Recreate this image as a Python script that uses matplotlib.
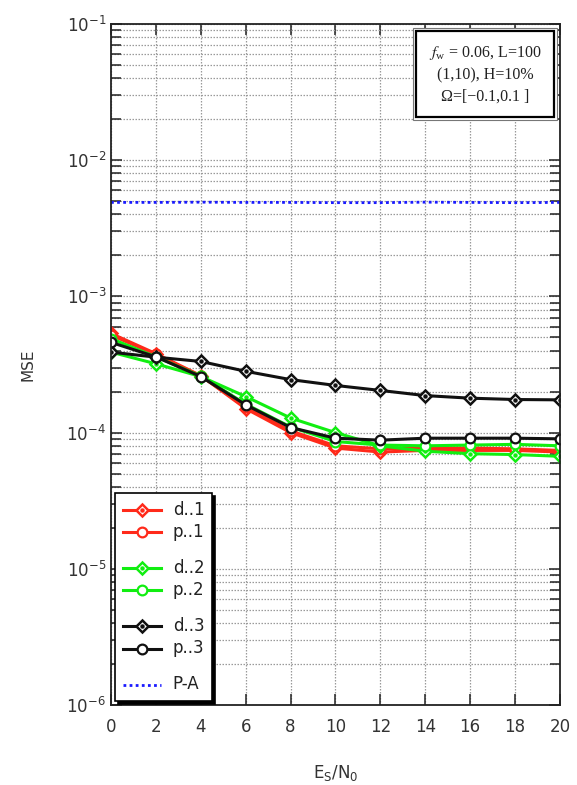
import matplotlib
matplotlib.use("Agg")
import matplotlib.pyplot as plt
from matplotlib.lines import Line2D
from matplotlib.patches import Rectangle
from matplotlib.legend_handler import HandlerTuple
import numpy as np

plt.rcParams['font.family'] = ['DejaVu Sans']
plt.rcParams['axes.unicode_minus'] = False
plt.rcParams['mathtext.fontset'] = 'stix'

x = [0, 2, 4, 6, 8, 10, 12, 14, 16, 18, 20]
d1 = [5.35e-4, 3.8e-4, 2.62e-4, 1.5e-4, 1.0e-4, 7.7e-5, 7.2e-5, 7.4e-5, 7.4e-5, 7.4e-5, 7.2e-5]
p1 = [5.2e-4, 3.75e-4, 2.6e-4, 1.55e-4, 1.03e-4, 8.0e-5, 7.6e-5, 7.7e-5, 7.7e-5, 7.6e-5, 7.4e-5]
d2 = [3.9e-4, 3.2e-4, 2.58e-4, 1.84e-4, 1.28e-4, 1.0e-4, 8.0e-5, 7.3e-5, 7.0e-5, 6.9e-5, 6.7e-5]
p2 = [4.9e-4, 3.6e-4, 2.6e-4, 1.62e-4, 1.1e-4, 8.6e-5, 8.1e-5, 8.0e-5, 8.1e-5, 8.2e-5, 8.0e-5]
d3 = [3.9e-4, 3.58e-4, 3.33e-4, 2.82e-4, 2.45e-4, 2.22e-4, 2.04e-4, 1.87e-4, 1.79e-4, 1.75e-4, 1.74e-4]
p3 = [4.6e-4, 3.6e-4, 2.58e-4, 1.6e-4, 1.09e-4, 9.1e-5, 8.8e-5, 9.1e-5, 9.1e-5, 9.1e-5, 9.0e-5]
pa = [4.9e-3, 4.9e-3, 4.92e-3, 4.9e-3, 4.9e-3, 4.88e-3, 4.88e-3, 4.92e-3, 4.9e-3, 4.88e-3, 4.9e-3]

labels = ['d..1', 'p..1', 'd..2', 'p..2', 'd..3', 'p..3', 'P-A']
red = '#ff2a1a'
green = '#11ee11'
black = '#111111'

fig = plt.figure(figsize=(5.77, 7.85), dpi=100)
ax = fig.add_axes([0.1924, 0.1019, 0.7781, 0.8675])

lw = 2.2
def dseries(y, c):
    l1, = ax.plot(x, y, color=c, lw=lw, marker='D', ms=6.5, mfc='white', mec=c, mew=1.8)
    l2, = ax.plot(x, y, ls='none', marker='o', ms=2.2, color=c)
    return (l1, l2)

def pseries(y, c):
    l, = ax.plot(x, y, color=c, lw=lw, marker='o', ms=7, mfc='white', mec=c, mew=1.6)
    return l

h_d1 = dseries(d1, red)
h_p1 = pseries(p1, red)
h_d2 = dseries(d2, green)
h_p2 = pseries(p2, green)
h_d3 = dseries(d3, black)
h_p3 = pseries(p3, black)
h_pa, = ax.plot(x, pa, color='#1a1aff', lw=2, ls=(0, (1, 1.2)))

ax.set_yscale('log')
ax.set_ylim(1e-6, 1e-1)
ax.set_xlim(0, 20)
ax.set_xticks(x)
ax.grid(True, which='major', axis='both', color='#9a9a9a', ls=(0, (1.2, 1.2)), lw=0.9)
ax.grid(True, which='minor', axis='y', color='#9a9a9a', ls=(0, (1.2, 1.2)), lw=0.9)
ax.tick_params(which='both', direction='in', top=True, right=True, labelsize=12, labelcolor='#333333', color='#222222')
ax.tick_params(which='major', length=8, width=1.1)
ax.tick_params(which='minor', length=7, width=1.1)
ax.tick_params(axis='x', pad=9)
for s in ax.spines.values():
    s.set_linewidth(1.3)
    s.set_color('#222222')

ax.set_ylabel('MSE', fontsize=11, color='#333333', labelpad=22)
ax.set_xlabel(r'$\mathregular{E_S/N_0}$', fontsize=12, color='#333333', labelpad=20)

blank = Line2D([], [], ls='none')
handles = [h_d1, h_p1, blank, h_d2, h_p2, blank, h_d3, h_p3, blank, h_pa]
leg_labels = [labels[0], labels[1], ' ', labels[2], labels[3], ' ', labels[4], labels[5], ' ', labels[6]]
leg = ax.legend(handles, leg_labels, loc='lower left', fontsize=12, handlelength=2.3,
                handleheight=0.3, labelspacing=0.25, handletextpad=0.7, borderpad=0.45,
                borderaxespad=0.25, fancybox=False, edgecolor='black', framealpha=1,
                shadow={'color': 'black', 'alpha': 1},
                handler_map={tuple: HandlerTuple(ndivide=1)})
leg.get_frame().set_linewidth(1.2)
for t in leg.get_texts():
    t.set_color('#222222')
for i, t in enumerate(leg.get_texts()):
    if leg_labels[i] == ' ':
        t.set_fontsize(1)

ax.add_patch(Rectangle((0.6726, 0.859), 0.3207, 0.135, transform=ax.transAxes,
                       fc='white', ec='#777777', lw=0.8, zorder=5))
ax.add_patch(Rectangle((0.679, 0.8634), 0.3076, 0.1263, transform=ax.transAxes,
                       fc='white', ec='black', lw=1.6, zorder=6))
ax.text(0.833, 0.9266, "$f_{\\mathregular{w}}$ = 0.06, L=100\n(1,10), H=10%\nΩ=[−0.1,0.1 ]",
        transform=ax.transAxes, ha='center', va='center', fontsize=11.5,
        family=['Liberation Serif', 'DejaVu Serif'], linespacing=1.45, color='#222222', zorder=7)

fig.savefig('out.png', dpi=100)
